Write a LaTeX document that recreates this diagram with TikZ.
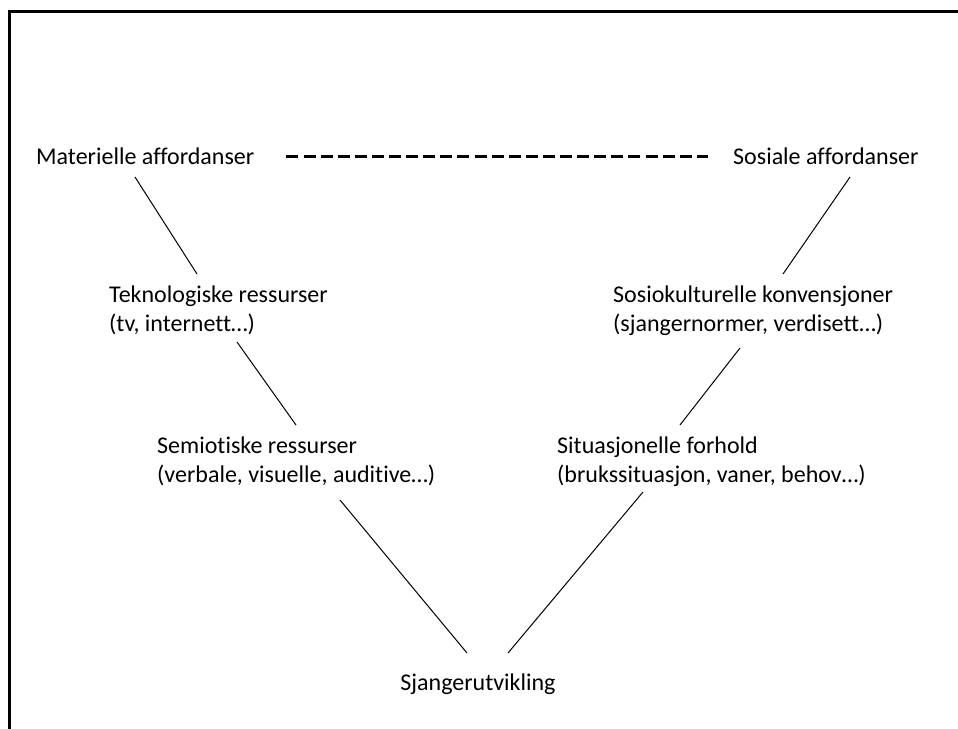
\documentclass[tikz,border=0pt]{standalone}
\usepackage{fontspec}
\setmainfont{Carlito}[Ligatures={NoCommon,NoRare,NoContextual}]
\usetikzlibrary{calc}
\begin{document}
\begin{tikzpicture}[x=1bp,y=-1bp,
  lbl/.style={inner sep=0pt,anchor=base west,align=left,font=\fontsize{24bp}{29.5bp}\selectfont},
  conn/.style={line width=1bp},
  frame/.style={line width=3bp}]
\useasboundingbox (0,0) rectangle (958,729);
\fill[white] (0,0) rectangle (958,729);
% frame (top and left edges visible)
\coordinate (ftl) at (9.5,11.5);
\coordinate (ftr) at (960,11.5);
\coordinate (fbl) at (9.5,731);
\draw[frame] (ftr) -- (ftl) -- (fbl);
% labels (base anchor = baseline of the last line)
\node[lbl] (mat) at (36,165) {Materielle affordanser};
\node[lbl] (sos) at (733,165) {Sosiale affordanser};
\node[lbl] (tek) at (109,331.5) {Teknologiske ressurser\\(tv, internett…)};
\node[lbl] (skk) at (613,331.5) {Sosiokulturelle konvensjoner\\(sjangernormer, verdisett…)};
\node[lbl] (sem) at (157,482.5) {Semiotiske ressurser\\(verbale, visuelle, auditive…)};
\node[lbl] (sit) at (557,482.5) {Situasjonelle forhold\\(brukssituasjon, vaner, behov…)};
\node[lbl,anchor=base] (sja) at (478,690) {Sjangerutvikling};
% dashed connector
\draw[line width=3bp,dash pattern=on 12bp off 5.1bp] ($(mat.east)+(32,0)$) coordinate (da) -- ($(sos.west)+(-25,0)$) coordinate (db);
% connectors
\coordinate (l1a) at (135,177); \coordinate (l1b) at (197,274);
\coordinate (l2a) at (237,342); \coordinate (l2b) at (296,425);
\coordinate (l3a) at (340,500); \coordinate (l3b) at (467,653);
\coordinate (r1a) at (850,177); \coordinate (r1b) at (783,274);
\coordinate (r2a) at (740,348); \coordinate (r2b) at (680,425);
\coordinate (r3a) at (643,492); \coordinate (r3b) at (508,653);
\draw[conn] (l1a) -- (l1b);
\draw[conn] (l2a) -- (l2b);
\draw[conn] (l3a) -- (l3b);
\draw[conn] (r1a) -- (r1b);
\draw[conn] (r2a) -- (r2b);
\draw[conn] (r3a) -- (r3b);
\end{tikzpicture}
\end{document}
